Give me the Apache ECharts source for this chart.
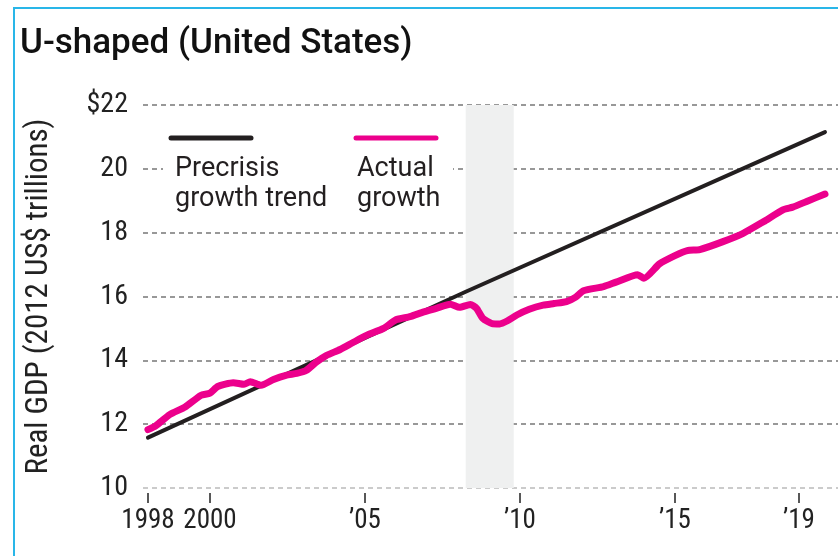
<!DOCTYPE html>
<html>
<head>
<meta charset="utf-8">
<script src="https://cdn.jsdelivr.net/npm/echarts@6/dist/echarts.min.js"></script>
<style>
    html, body { margin: 0; padding: 0; background: #fff; }
    #chart { width: 838px; height: 556px; }
</style>
</head>
<body>
<div id="chart"></div>
<script>
// real GDP, quarterly
const actualYears = [1998.0, 1998.25, 1998.7, 1999.2, 1999.7, 2000.0, 2000.25, 2000.75, 2001.1, 2001.3,
    2001.65, 2002.05, 2002.45, 2002.8, 2003.1, 2003.45, 2003.75, 2004.2, 2004.6, 2005.05,
    2005.6, 2006.0, 2006.45, 2006.9, 2007.3, 2007.75, 2008.05, 2008.4, 2008.6, 2008.8,
    2009.1, 2009.35, 2009.6, 2009.9, 2010.3, 2010.75, 2011.1, 2011.5, 2011.8, 2012.05,
    2012.7, 2013.1, 2013.8, 2014.0, 2014.5, 2015.0, 2015.4, 2015.8, 2016.55, 2017.2,
    2017.85, 2018.5, 2018.8, 2019.25, 2019.84]
const actualValues = [11.83, 11.95, 12.3, 12.54, 12.9, 12.97, 13.18, 13.3, 13.25, 13.33,
    13.22, 13.4, 13.53, 13.59, 13.68, 13.96, 14.15, 14.34, 14.55, 14.78,
    15.0, 15.27, 15.37, 15.52, 15.63, 15.76, 15.66, 15.75, 15.63, 15.32,
    15.15, 15.14, 15.24, 15.42, 15.6, 15.73, 15.78, 15.84, 15.98, 16.18,
    16.31, 16.45, 16.68, 16.57, 17.02, 17.28, 17.44, 17.47, 17.72, 17.98,
    18.34, 18.72, 18.8, 18.98, 19.21]
const trendYears = [1998.0, 2008.25, 2019.84]
const trendValues = [11.58, 16.15, 21.15]
const recession = [2008.25, 2009.8]
const xTickYears = [1998, 2000, 2005, 2010, 2015, 2019]

const pairs = (xs, ys) => xs.map((x, i) => [x, ys[i]])
const labelFont = 'Liberation Sans Narrow, Roboto Condensed, DejaVu Sans Condensed, sans-serif'

const chart = echarts.init(document.getElementById('chart'))
chart.setOption({
    animation: false,
    title: {
        text: 'U-shaped (United States)',
        left: 20,
        top: 27,
        padding: 0,
        textStyle: { fontFamily: 'Roboto', fontWeight: 500, fontSize: 35, color: '#111' }
    },
    grid: { left: 143, right: 0, top: 105, bottom: 68 },
    xAxis: {
        type: 'value',
        min: 1997.84,
        max: 2020.26,
        offset: 5,
        axisLine: { show: false },
        splitLine: { show: false },
        axisTick: {
            customValues: xTickYears,
            length: 10,
            lineStyle: { color: '#222', width: 1.5 }
        },
        axisLabel: {
            customValues: xTickYears,
            margin: 15,
            fontFamily: labelFont,
            fontSize: 27,
            color: '#222',
            formatter: v => (v === 1998 || v === 2000) ? String(v) : '\u2019' + String(v).slice(2)
        }
    },
    yAxis: {
        type: 'value',
        min: 10,
        max: 22,
        interval: 2,
        z: 1,
        name: 'Real GDP (2012 US$ trillions)',
        nameLocation: 'middle',
        nameGap: 88,
        nameTextStyle: { fontFamily: labelFont, fontSize: 31, color: '#222' },
        axisLine: { show: false },
        axisTick: { show: false },
        axisLabel: {
            margin: 15,
            fontFamily: labelFont,
            fontSize: 28,
            color: '#222',
            formatter: v => v === 22 ? '$22' : String(v)
        },
        splitLine: {
            lineStyle: {
                type: [5, 4],
                width: 1.5,
                color: ['#bbb', '#777', '#777', '#777', '#777', '#777', '#777']
            }
        }
    },
    series: [
        {
            type: 'line',
            name: 'recession',
            data: [],
            z: 0,
            silent: true,
            markArea: {
                silent: true,
                itemStyle: { color: '#eff0f0' },
                data: [[{ xAxis: recession[0] }, { xAxis: recession[1] }]]
            }
        },
        {
            type: 'line',
            name: 'Precrisis growth trend',
            data: pairs(trendYears, trendValues),
            showSymbol: false,
            z: 2,
            lineStyle: { color: '#231f20', width: 4, cap: 'round' }
        },
        {
            type: 'line',
            name: 'Actual growth',
            data: pairs(actualYears, actualValues),
            showSymbol: false,
            smooth: 0.2,
            z: 3,
            lineStyle: { color: '#ec008c', width: 7, cap: 'round', join: 'round' }
        }
    ],
    graphic: [
        {
            type: 'rect',
            z: 5,
            shape: { x: 14, y: 8, width: 900, height: 600 },
            style: { fill: 'none', stroke: '#29b6e8', lineWidth: 2 },
            silent: true
        },
        {
            type: 'rect',
            z: 4,
            shape: { x: 163, y: 150, width: 290, height: 66 },
            style: { fill: '#fff' },
            silent: true
        },
        {
            type: 'line',
            z: 5,
            shape: { x1: 171, y1: 138, x2: 251, y2: 138 },
            style: { stroke: '#231f20', lineWidth: 5, lineCap: 'round' }
        },
        {
            type: 'line',
            z: 5,
            shape: { x1: 356, y1: 138, x2: 436, y2: 138 },
            style: { stroke: '#ec008c', lineWidth: 5, lineCap: 'round' }
        },
        {
            type: 'text',
            z: 5,
            left: 175,
            top: 154,
            style: {
                text: 'Precrisis\ngrowth trend',
                font: '27px Roboto',
                lineHeight: 30,
                fill: '#231f20'
            }
        },
        {
            type: 'text',
            z: 5,
            left: 357,
            top: 154,
            style: {
                text: 'Actual\ngrowth',
                font: '27px Roboto',
                lineHeight: 30,
                fill: '#231f20'
            }
        }
    ]
})
</script>
</body>
</html>
